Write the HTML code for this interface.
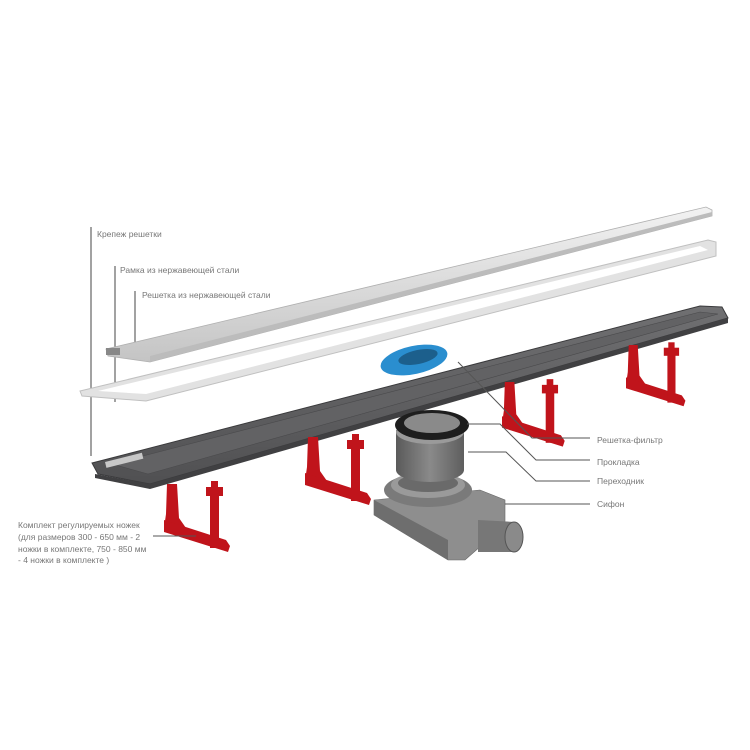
<!DOCTYPE html>
<html><head><meta charset="utf-8"><style>
html,body{margin:0;padding:0;background:#fff;}
svg{display:block;}
text{font-family:"Liberation Sans",sans-serif;font-size:8.5px;fill:#777;}
</style></head><body>
<svg width="750" height="750" viewBox="0 0 750 750" xmlns="http://www.w3.org/2000/svg">
<defs>
<linearGradient id="steel" x1="0" y1="0" x2="0" y2="1">
<stop offset="0" stop-color="#f2f2f2"/><stop offset="1" stop-color="#c4c4c4"/></linearGradient>
<linearGradient id="dark" x1="0" y1="0" x2="0" y2="1">
<stop offset="0" stop-color="#707072"/><stop offset="1" stop-color="#505052"/></linearGradient>
<linearGradient id="cyl" x1="0" y1="0" x2="1" y2="0">
<stop offset="0" stop-color="#5a5a5a"/><stop offset="0.5" stop-color="#8a8a8a"/><stop offset="1" stop-color="#5e5e5e"/></linearGradient>
<g id="leg" fill="#c0141b">
<polygon points="3,0 13,0 15,34 22,44 0,44 2,30"/>
<polygon points="0,36 62,56 66,62 64,68 0,48"/>
<rect x="46" y="10" width="9" height="54"/>
<rect x="42" y="3" width="17" height="9"/>
<rect x="47" y="-3" width="7" height="7"/>
</g>
</defs>

<!-- leader lines left -->
<g stroke="#444" stroke-width="1" fill="none">
<line x1="91" y1="227" x2="91" y2="456"/>
<line x1="115" y1="266" x2="115" y2="402"/>
<line x1="135" y1="291" x2="135" y2="347"/>
</g>
<text x="97" y="237">Крепеж решетки</text>
<text x="120" y="273">Рамка из нержавеющей стали</text>
<text x="142" y="298">Решетка из нержавеющей стали</text>

<!-- frame -->
<polygon points="80,391 708,240 716,242 716,256 146,401 82,396" fill="#e2e2e2" stroke="#c0c0c0" stroke-width="1"/>
<polygon points="98,391 700,246 708,250 146,394" fill="#fff"/>

<!-- grate -->
<polygon points="106,349 706,207 712,210 712,216 150,362 108,356" fill="url(#steel)" stroke="#b0b0b0" stroke-width="0.8"/>
<polygon points="150,356 712,212 712,216 150,362" fill="#bcbcbc"/>
<rect x="106" y="348" width="14" height="7" fill="#888"/>

<!-- channel -->
<polygon points="92,463 700,306 722,307 728,318 150,484 98,474" fill="url(#dark)" stroke="#3a3a3c" stroke-width="1"/>
<polygon points="112,464 700,312 718,314 148,474" fill="#626264" stroke="#4a4a4c" stroke-width="0.6"/>
<rect x="105" y="462" width="38" height="6" fill="#c8c8c8" transform="rotate(-14 105 462)"/>
<polygon points="150,484 728,318 728,323 150,489 95,478 95,474" fill="#404042"/>

<!-- red legs -->
<use href="#leg" transform="translate(164,484)"/>
<use href="#leg" transform="translate(305,437)"/>
<use href="#leg" transform="translate(502,382) scale(0.95)"/>
<use href="#leg" transform="translate(626,345) scale(0.9)"/>

<!-- blue filter -->
<ellipse cx="414" cy="360" rx="34" ry="14" fill="#2a8ecf" transform="rotate(-12 414 360)"/>
<ellipse cx="418" cy="357" rx="20" ry="7" fill="#1c5f8c" transform="rotate(-12 418 357)"/>

<!-- siphon -->
<polygon points="374,500 480,490 505,500 505,525 465,560 448,560 374,515" fill="#8e8e8e" stroke="#666" stroke-width="0.6"/>
<polygon points="374,500 448,540 448,560 374,515" fill="#6e6e6e"/>
<path d="M478,520 L515,522 L515,552 L478,552 Z" fill="#777"/>
<ellipse cx="514" cy="537" rx="9" ry="15" fill="#8a8a8a" stroke="#555"/>
<ellipse cx="428" cy="490" rx="44" ry="17" fill="#7a7a7a"/>
<ellipse cx="428" cy="485" rx="37" ry="13" fill="#9a9a9a"/>
<ellipse cx="428" cy="483" rx="30" ry="9" fill="#6a6a6a"/>

<!-- adapter -->
<path d="M396,430 L464,430 L464,470 A34,12 0 0 1 396,470 Z" fill="url(#cyl)"/>
<ellipse cx="430" cy="432" rx="34" ry="12" fill="#9a9a9a"/>
<!-- gasket -->
<ellipse cx="432" cy="425" rx="37" ry="15" fill="#1e1e1e"/>
<ellipse cx="432" cy="423" rx="28" ry="10" fill="#8a8a8a"/>

<!-- right leader lines -->
<g stroke="#555" stroke-width="1" fill="none">
<polyline points="458,362 532,438 590,438"/>
<polyline points="467,424 500,424 536,460 590,460"/>
<polyline points="468,452 506,452 536,481 590,481"/>
<polyline points="505,504 590,504"/>
<line x1="153" y1="536" x2="196" y2="536"/>
</g>
<text x="597" y="443">Решетка-фильтр</text>
<text x="597" y="465">Прокладка</text>
<text x="597" y="484">Переходник</text>
<text x="597" y="507">Сифон</text>

<text x="18" y="528">Комплект регулируемых ножек</text>
<text x="18" y="540">(для размеров 300 - 650 мм - 2</text>
<text x="18" y="552">ножки в комплекте, 750 - 850 мм</text>
<text x="18" y="563">- 4 ножки в комплекте )</text>
</svg>
</body></html>
